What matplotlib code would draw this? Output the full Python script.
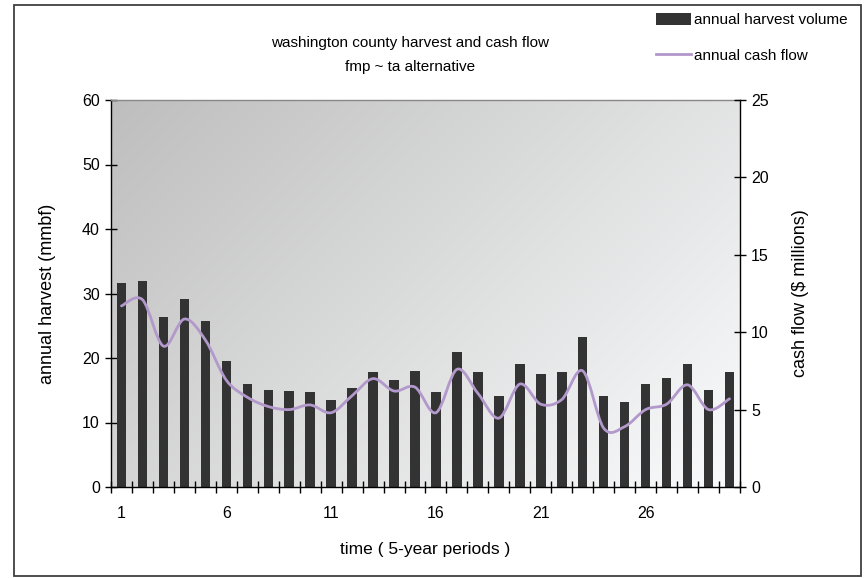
import numpy as np
import matplotlib
matplotlib.use("Agg")
import matplotlib.pyplot as plt
from matplotlib.path import Path
from matplotlib.patches import PathPatch, Rectangle, Patch
from matplotlib.lines import Line2D

plt.rcParams['font.family'] = ['Liberation Sans', 'DejaVu Sans']

periods = list(range(1, 31))
harvest = [31.6, 31.9, 26.3, 29.1, 25.7, 19.5, 16.0, 15.0, 14.9, 14.7,
           13.5, 15.3, 17.8, 16.6, 18.0, 14.7, 20.9, 17.8, 14.1, 19.1,
           17.5, 17.8, 23.3, 14.1, 13.2, 16.0, 16.9, 19.1, 15.0, 17.8]
cash_flow = [11.7, 12.1, 9.1, 10.85, 9.5, 6.9, 5.8, 5.2, 5.0, 5.3,
             4.8, 5.9, 7.0, 6.2, 6.45, 4.8, 7.6, 6.05, 4.45, 6.65,
             5.35, 5.65, 7.5, 3.8, 3.9, 5.0, 5.35, 6.6, 5.0, 5.7]
x_labels = ['1', '6', '11', '16', '21', '26']

W, H = 866, 578
fig = plt.figure(figsize=(W / 100, H / 100), dpi=100)

# outer border
fig.patches.append(Rectangle((14 / W, 1 - 576 / H), (861 - 14) / W, (576 - 5) / H,
                             transform=fig.transFigure, fill=False,
                             edgecolor='#404040', linewidth=1.3))

L, R, T, B = 111, 740, 100, 487
ax = fig.add_axes([L / W, 1 - B / H, (R - L) / W, (B - T) / H])

# gradient background (dark top-left -> light bottom-right)
nx, ny = 200, 124
xs = np.linspace(0, 629, nx)
ys = np.linspace(0, 387, ny)
XX, YY = np.meshgrid(xs, ys)
t = (XX + YY) / (629 + 387)
c0 = np.array([190, 190, 190]) / 255
c1 = np.array([250, 251, 252]) / 255
img = c0[None, None, :] * (1 - t[..., None]) + c1[None, None, :] * t[..., None]
ax.imshow(img, extent=[0, 1, 0, 1], origin='upper', transform=ax.transAxes,
          aspect='auto', zorder=0, interpolation='bilinear')
ax.set_facecolor('none')

ax.bar(periods, harvest, width=0.45, color='#333333', zorder=2)
ax.set_xlim(0.5, 30.5)
ax.set_ylim(0, 60)
ax.set_yticks(range(0, 61, 10))
ax.set_xticks([int(s) for s in x_labels])
ax.set_xticklabels(x_labels)
ax.set_xticks(np.arange(0.5, 31, 1), minor=True)
ax.tick_params(axis='x', which='major', length=0, pad=14, labelsize=11.5)
ax.tick_params(axis='x', which='minor', direction='inout', length=8, width=1)
ax.tick_params(axis='y', direction='inout', length=8, width=1, pad=4, labelsize=11.5)
for s in ['left', 'bottom']:
    ax.spines[s].set_color('black')
    ax.spines[s].set_linewidth(1.0)
ax.spines['top'].set_color('#888888')
ax.spines['top'].set_linewidth(1.0)
ax.spines['right'].set_visible(False)

ax2 = ax.twinx()
ax2.set_ylim(0, 25)
ax2.set_yticks(range(0, 26, 5))
ax2.tick_params(axis='y', direction='inout', length=8, width=1, pad=4, labelsize=11.5)
for s in ['left', 'bottom', 'top']:
    ax2.spines[s].set_visible(False)
ax2.spines['right'].set_color('black')
ax2.spines['right'].set_linewidth(1.0)

# smoothed (Catmull-Rom style) cash flow line
px = np.array(periods, dtype=float)
py = np.array(cash_flow, dtype=float)
n = len(px)
verts = [(px[0], py[0])]
codes = [Path.MOVETO]
for i in range(n - 1):
    p0 = np.array([px[max(i - 1, 0)], py[max(i - 1, 0)]])
    p1 = np.array([px[i], py[i]])
    p2 = np.array([px[i + 1], py[i + 1]])
    p3 = np.array([px[min(i + 2, n - 1)], py[min(i + 2, n - 1)]])
    c1p = p1 + (p2 - p0) / 6.0
    c2p = p2 - (p3 - p1) / 6.0
    verts += [tuple(c1p), tuple(c2p), tuple(p2)]
    codes += [Path.CURVE4] * 3
line_color = '#b298cb'
ax2.add_patch(PathPatch(Path(verts, codes), fill=False, edgecolor=line_color,
                        linewidth=2.0, zorder=3, capstyle='round', joinstyle='round'))

ax.set_ylabel('annual harvest (mmbf)', fontsize=13, labelpad=19)
ax2.set_ylabel('cash flow ($ millions)', fontsize=13, labelpad=17)
ax.set_xlabel('time ( 5-year periods )', fontsize=12.5, labelpad=15)

fig.text(410 / W, 1 - 43 / H, 'washington county harvest and cash flow',
         ha='center', va='center', fontsize=11)
fig.text(410 / W, 1 - 67 / H, 'fmp ~ ta alternative',
         ha='center', va='center', fontsize=11)

handles = [Patch(facecolor='#333333', edgecolor='none'),
           Line2D([], [], color=line_color, linewidth=2.0)]
fig.legend(handles, ['annual harvest volume', 'annual cash flow'],
           loc='upper left', bbox_to_anchor=(650 / W, 1 - 7 / H),
           frameon=False, fontsize=11, handlelength=2.3, handleheight=0.8,
           handletextpad=0.15, labelspacing=1.4, borderaxespad=0)

fig.savefig('out.png', dpi=100)
